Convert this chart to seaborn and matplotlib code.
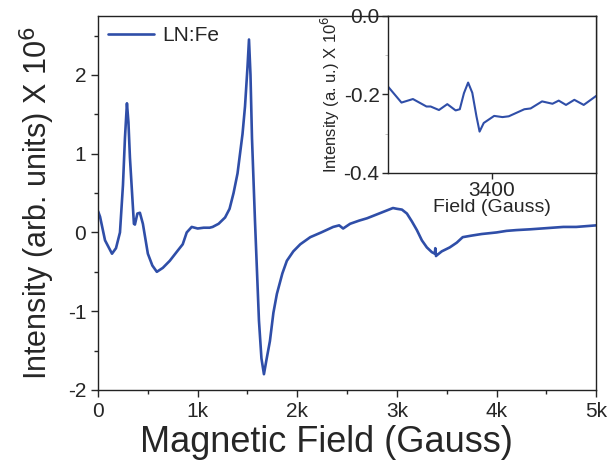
import numpy as np
import pandas as pd
import seaborn as sns
import matplotlib.pyplot as plt
from matplotlib.ticker import MultipleLocator, FuncFormatter

# main spectrum (field in Gauss, intensity x 1e6)
field = [0, 20, 70, 140, 180, 220, 250, 270, 290, 305, 320, 340, 360, 370,
         395, 420, 450, 500, 545, 590, 650, 720, 800, 850, 890, 940, 1000,
         1060, 1120, 1150, 1210, 1275, 1320, 1360, 1400, 1425, 1450, 1475,
         1500, 1515, 1530, 1545, 1575, 1615, 1640, 1665, 1690, 1725, 1760,
         1795, 1850, 1895, 1960, 2030, 2130, 2240, 2360, 2420, 2460, 2530,
         2620, 2700, 2800, 2900, 2960, 3000, 3050, 3100, 3150, 3200, 3250,
         3300, 3350, 3380, 3385, 3392, 3400, 3450, 3530, 3600, 3660, 3750,
         3850, 4000, 4100, 4200, 4340, 4450, 4560, 4670, 4800, 4900, 5000]
intensity = [0.27, 0.2, -0.1, -0.27, -0.2, 0.0, 0.6, 1.2, 1.64, 1.4, 0.95,
             0.53, 0.11, 0.1, 0.24, 0.25, 0.11, -0.27, -0.42, -0.5, -0.45,
             -0.36, -0.23, -0.15, 0.0, 0.07, 0.05, 0.06, 0.06, 0.07, 0.11,
             0.19, 0.3, 0.5, 0.75, 1.0, 1.25, 1.6, 2.1, 2.45, 2.0, 1.2, 0.15,
             -1.12, -1.6, -1.8, -1.62, -1.38, -1.02, -0.78, -0.52, -0.36,
             -0.24, -0.15, -0.06, 0.0, 0.07, 0.09, 0.05, 0.11, 0.15, 0.18,
             0.23, 0.28, 0.31, 0.3, 0.29, 0.24, 0.14, 0.03, -0.1, -0.19,
             -0.25, -0.27, -0.2, -0.3, -0.29, -0.24, -0.19, -0.13, -0.06,
             -0.04, -0.02, 0.0, 0.02, 0.03, 0.04, 0.05, 0.06, 0.07, 0.07,
             0.08, 0.09]

# inset: zoom around 3400 G
inset_field = [3300, 3313, 3324, 3337, 3341, 3349, 3357, 3365, 3369, 3373,
               3377, 3381, 3385, 3388, 3392, 3402, 3410, 3416, 3431, 3437,
               3448, 3458, 3464, 3471, 3479, 3488, 3500]
inset_intensity = [-0.18, -0.221, -0.212, -0.231, -0.231, -0.24, -0.225,
                   -0.241, -0.238, -0.197, -0.17, -0.196, -0.256, -0.295,
                   -0.273, -0.255, -0.258, -0.256, -0.238, -0.236, -0.218,
                   -0.224, -0.216, -0.227, -0.214, -0.227, -0.204]

df = pd.DataFrame({"Field": field, "Intensity": intensity})
df_in = pd.DataFrame({"Field": inset_field, "Intensity": inset_intensity})

sns.set_style("ticks")
plt.rcParams['font.family'] = ['Liberation Sans', 'DejaVu Sans']
plt.rcParams['axes.unicode_minus'] = False
blue = "#2f4ea8"

fig = plt.figure(figsize=(6.09, 4.67), dpi=100)
ax = fig.add_axes([0.161, 0.165, 0.818, 0.801])
sns.lineplot(data=df, x="Field", y="Intensity", ax=ax, color=blue,
             linewidth=1.9, label="LN:Fe")
ax.set_xlim(0, 5000)
ax.set_ylim(-2, 2.75)
ax.xaxis.set_major_locator(MultipleLocator(1000))
ax.xaxis.set_minor_locator(MultipleLocator(500))
ax.yaxis.set_major_locator(MultipleLocator(1))
ax.yaxis.set_minor_locator(MultipleLocator(0.5))
ax.xaxis.set_major_formatter(FuncFormatter(lambda v, p: "0" if v == 0 else f"{int(v/1000)}k"))
ax.yaxis.set_major_formatter(FuncFormatter(lambda v, p: f"{int(round(v))}"))
ax.tick_params(which="major", length=5, width=1, labelsize=15)
ax.tick_params(which="minor", length=3, width=1)
for s in ax.spines.values():
    s.set_linewidth(1)
    s.set_color("#222222")
ax.set_xlabel("Magnetic Field (Gauss)", fontsize=26, labelpad=4)
ax.xaxis.set_label_coords(0.458, -0.095)
ax.set_ylabel("Intensity (arb. units) X 10$^6$", fontsize=22, labelpad=8)
leg = ax.legend(loc="upper left", frameon=False, fontsize=15, handlelength=2.2,
                borderaxespad=0.1, handletextpad=0.4)

axi = fig.add_axes([0.637, 0.630, 0.342, 0.336])
sns.lineplot(data=df_in, x="Field", y="Intensity", ax=axi, color=blue,
             linewidth=1.5)
axi.set_xlim(3300, 3500)
axi.set_ylim(-0.4, 0.0)
axi.set_xticks([3400])
axi.yaxis.set_major_locator(MultipleLocator(0.2))
axi.yaxis.set_minor_locator(MultipleLocator(0.1))
axi.yaxis.set_major_formatter(FuncFormatter(lambda v, p: f"{v:.1f}"))
axi.tick_params(which="major", length=4, width=1, labelsize=15, pad=2)
axi.tick_params(which="minor", length=2, width=0.6, color="#bbbbbb")
for s in axi.spines.values():
    s.set_linewidth(1)
    s.set_color("#222222")
axi.set_xlabel("Field (Gauss)", fontsize=14, labelpad=-1)
axi.set_ylabel("Intensity (a. u.) X 10$^6$", fontsize=12, labelpad=1)

fig.savefig("out.png", dpi=100)
